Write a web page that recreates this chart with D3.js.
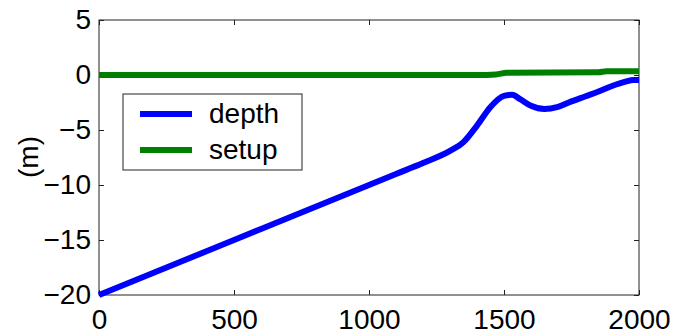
<!DOCTYPE html>
<html>
<head>
<meta charset="utf-8">
<script src="https://cdn.jsdelivr.net/npm/d3@7"></script>
<style>
  body { margin: 0; background: #fff; }
  svg text { font-family: "Liberation Sans", Arial, sans-serif; fill: #000; }
</style>
</head>
<body>
<div id="chart"></div>
<script>
// distance along profile (m)
const depthX = [0, 200, 400, 600, 800, 1000, 1100, 1200, 1300, 1350, 1400, 1450, 1500, 1530, 1560, 1600, 1650, 1700, 1750, 1800, 1850, 1900, 1950, 1980, 2000];
const depthY = [-20, -18, -16, -14, -12, -10, -9, -8, -6.9, -6.1, -4.6, -2.9, -1.9, -1.8, -2.2, -2.8, -3.1, -2.9, -2.4, -1.95, -1.5, -1.0, -0.6, -0.45, -0.45];
const setupX = [0, 1400, 1470, 1510, 1850, 1880, 2000];
const setupY = [0, 0, 0.05, 0.2, 0.25, 0.35, 0.35];
const xTicks = [0, 500, 1000, 1500, 2000];
const yTicks = [-20, -15, -10, -5, 0, 5];
const seriesNames = ['depth', 'setup'];
const colors = ['#0000ff', '#007f00'];

const w = 673, h = 335;
const padL = 99, padR = 639, padT = 20, padB = 295;
const tick = 5;

const svg = d3.select('#chart').append('svg')
  .attr('width', w)
  .attr('height', h);

const xScale = d3.scaleLinear().domain([0, 2000]).range([padL, padR]);
const yScale = d3.scaleLinear().domain([-20, 5]).range([padB, padT]);

//Box
svg.append('rect')
  .attr('x', padL).attr('y', padT)
  .attr('width', padR - padL).attr('height', padB - padT)
  .attr('fill', 'none').attr('stroke', '#222').attr('stroke-width', 1);

//Axes - ticks point inward, labels drawn separately
const xAxis = d3.axisBottom(xScale).tickValues(xTicks).tickSize(-tick).tickFormat(d3.format('d'));
const yAxis = d3.axisLeft(yScale).tickValues(yTicks).tickSize(-tick).tickFormat(d3.format('d'));

const gx = svg.append('g').attr('transform', `translate(0, ${padB})`).call(xAxis);
gx.selectAll('text').attr('y', 14).attr('dy', '0.71em').style('font-size', '28px');

svg.append('g').attr('transform', `translate(0, ${padT})`)
  .call(d3.axisTop(xScale).tickValues(xTicks).tickSize(-tick).tickFormat(''));

const gy = svg.append('g').attr('transform', `translate(${padL}, 0)`).call(yAxis);
gy.selectAll('text').attr('x', -8).style('font-size', '28px');

svg.append('g').attr('transform', `translate(${padR}, 0)`)
  .call(d3.axisRight(yScale).tickValues(yTicks).tickSize(-tick).tickFormat(''));

svg.selectAll('.domain').remove();
svg.selectAll('.tick line').attr('stroke', '#222');

//Axis label
svg.append('text')
  .attr('transform', 'translate(38, 157) rotate(-90)')
  .attr('text-anchor', 'middle')
  .style('font-size', '28px')
  .text('(m)');

//Lines
const line = d3.line()
  .x(d => xScale(d[0]))
  .y(d => yScale(d[1]))
  .curve(d3.curveMonotoneX);

svg.append('path')
  .datum(d3.zip(setupX, setupY))
  .attr('d', line)
  .attr('fill', 'none')
  .attr('stroke', colors[1])
  .attr('stroke-width', 6);

svg.append('path')
  .datum(d3.zip(depthX, depthY))
  .attr('d', line)
  .attr('fill', 'none')
  .attr('stroke', colors[0])
  .attr('stroke-width', 6);

//Legend
const legend = svg.append('g');
legend.append('rect')
  .attr('x', 123).attr('y', 94)
  .attr('width', 179).attr('height', 76)
  .attr('fill', '#fff').attr('stroke', '#222');

seriesNames.forEach((name, i) => {
  const y = 114 + i * 36;
  legend.append('line')
    .attr('x1', 140).attr('x2', 192)
    .attr('y1', y).attr('y2', y)
    .attr('stroke', colors[i]).attr('stroke-width', 6);
  legend.append('text')
    .attr('x', 209).attr('y', y)
    .attr('dy', '0.32em')
    .style('font-size', '28px')
    .text(name);
});
</script>
</body>
</html>
